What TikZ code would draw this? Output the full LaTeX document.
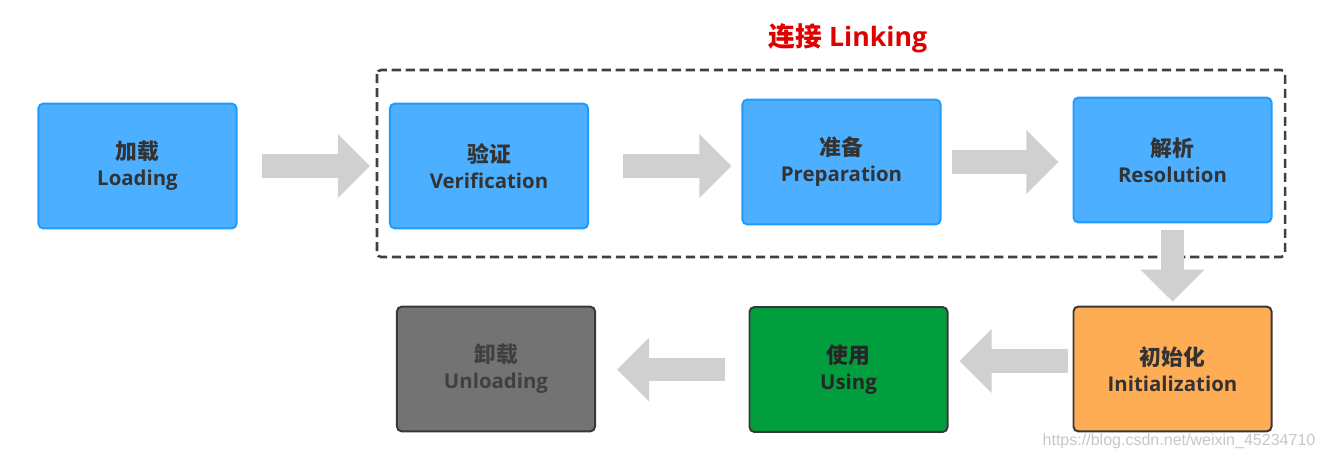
\documentclass[tikz,border=0pt]{standalone}
\usepackage{fontspec}
\setmainfont{Open Sans}
\newfontfamily\cjk{Noto Sans CJK SC}
\newfontfamily\urlfont{Liberation Sans}
\usepackage{xcolor}
\usetikzlibrary{positioning,arrows.meta}

\definecolor{boxblue}{HTML}{4DAFFF}
\definecolor{edgeblue}{HTML}{1E9BFF}
\definecolor{boxorange}{HTML}{FFAD55}
\definecolor{boxgreen}{HTML}{009E3C}
\definecolor{boxgray}{HTML}{737373}
\definecolor{edgedark}{HTML}{383838}
\definecolor{txtdark}{HTML}{333333}
\definecolor{flowgray}{HTML}{D0D0D0}
\definecolor{framegray}{HTML}{404040}
\definecolor{titlered}{HTML}{E00000}

\newcommand{\stagetext}[2]{{\cjk\bfseries\fontsize{15.5}{18.5}\selectfont #1}\\{\bfseries #2}}

\begin{document}
\begin{tikzpicture}[x=0.025cm, y=-0.025cm,
    stage/.style={draw, rectangle, rounded corners=0.12cm, line width=1.4pt,
        minimum width=4.95cm, minimum height=3.12cm, inner sep=0pt,
        align=center, text=txtdark, font=\fontsize{14.5}{18.5}\selectfont},
    blue stage/.style={stage, fill=boxblue, draw=edgeblue},
    flow/.style={draw=flowgray, line width=0.575cm, line cap=butt,
        -{Triangle[length=0.8cm, width=1.55cm]}}]
    \useasboundingbox (0,0) rectangle (1328,460);

    % Components
    \node[blue stage] (load) at (137.5,166) {\stagetext{加载}{Loading}};
    \node[blue stage] (verif) at (489,166) {\stagetext{验证}{Verification}};
    \node[blue stage] (prep) at (841.5,162) {\stagetext{准备}{Preparation}};
    \node[blue stage] (res) at (1172.5,160) {\stagetext{解析}{Resolution}};
    \node[stage, fill=boxorange, draw=edgedark] (init) at (1172.5,369) {\stagetext{初始化}{Initialization}};
    \node[stage, fill=boxgreen, draw=edgedark, text=black!85] (use) at (848.5,369.5) {\stagetext{使用}{Using}};
    \node[stage, fill=boxgray, draw=edgedark, text=black!75] (unload) at (496,369) {\stagetext{卸载}{Unloading}};

    % Linking group
    \draw[framegray, line width=1.8pt, dash pattern=on 0.23cm off 0.12cm, rounded corners=0.1cm]
        (377,70) rectangle (1285,257);
    \node[text=titlered, font=\fontsize{19}{23}\selectfont\bfseries] (linking) at (848,38) {{\cjk 连接} Linking};

    % Data flow
    \draw[flow, shorten <=0.6cm, shorten >=0.475cm] (load.east) -- (load.east -| verif.west);
    \draw[flow, shorten <=0.85cm, shorten >=0.25cm] (verif.east) -- (verif.east -| prep.west);
    \draw[flow, shorten <=0.25cm, shorten >=0.35cm] (prep.east) -- (prep.east -| res.west);
    \draw[flow, shorten <=0.175cm, shorten >=0.1cm] (res.south) -- (init.north);
    \draw[flow, shorten <=0.125cm, shorten >=0.275cm] ([yshift=0.2cm]init.west) -- ([yshift=0.2cm]init.west -| use.east);
    \draw[flow, shorten <=0.575cm, shorten >=0.525cm] (use.west) -- (use.west -| unload.east);

    % Watermark
    \node[text=black!22, font=\urlfont\fontsize{11.4}{13}\selectfont] (mark) at (1179,441) {https://blog.csdn.net/weixin\_45234710};
\end{tikzpicture}
\end{document}
